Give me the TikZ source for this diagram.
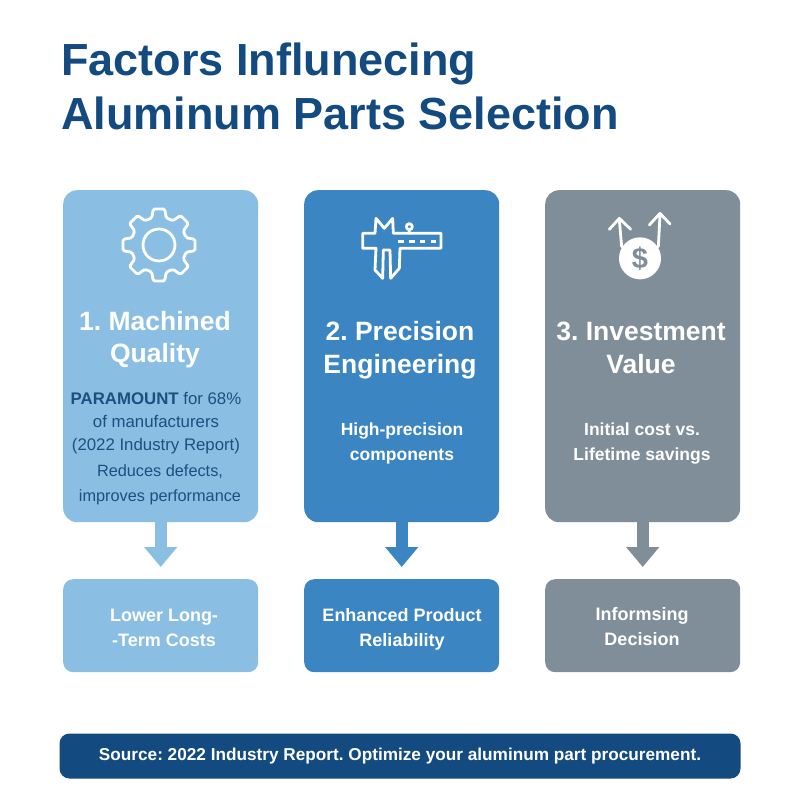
\documentclass[tikz,border=0pt]{standalone}
\usepackage{fontspec}
\setmainfont{Liberation Sans}
\usetikzlibrary{arrows.meta}
\definecolor{navy}{HTML}{134A80}
\definecolor{bodyblue}{HTML}{1F4F80}
\definecolor{lightb}{HTML}{8BBEE3}
\definecolor{midb}{HTML}{3B85C3}
\definecolor{slate}{HTML}{808E9A}
\tikzset{
 tallcard/.style={rounded corners=14pt,inner sep=0pt,minimum width=195pt,minimum height=332pt,anchor=north west},
 lowcard/.style={rounded corners=10pt,inner sep=0pt,minimum width=195pt,minimum height=93pt,anchor=north west},
 heading/.style={text=white,align=center,font=\fontsize{26.5}{32.5}\selectfont\bfseries},
 bodytext/.style={text=white,align=center,font=\fontsize{17.5}{25}\selectfont\bfseries},
 darktext/.style={text=bodyblue,align=center,font=\fontsize{16.8}{23}\selectfont},
 lowtext/.style={text=white,align=center,font=\fontsize{18}{25}\selectfont\bfseries},
 downarrow/.style={draw=#1,line width=12pt,shorten >=12pt,-{Triangle[width=32pt,length=20pt]}},
 icon/.style={draw=white,line width=2.8pt,line join=round,line cap=round},
}
\begin{document}
\frenchspacing
\begin{tikzpicture}[x=1pt,y=-1pt]
\useasboundingbox (0,0) rectangle (800,800);
\fill[white] (0,0) rectangle (800,800);
% title
\node[anchor=west,text=navy,inner sep=0pt,font=\fontsize{45}{54}\selectfont\bfseries,align=left] (title) at (61,86) {Factors Influnecing\\Aluminum Parts Selection};
% cards
\node[tallcard,fill=lightb] (c1) at (63,190) {};
\node[tallcard,fill=midb] (c2) at (304,190) {};
\node[tallcard,fill=slate] (c3) at (545,190) {};
\node[lowcard,fill=lightb] (b1) at (63,579) {};
\node[lowcard,fill=midb] (b2) at (304,579) {};
\node[lowcard,fill=slate] (b3) at (545,579) {};
% arrows
\draw[downarrow=lightb] (c1.south) -- (b1.north);
\draw[downarrow=midb] (c2.south) -- (b2.north);
\draw[downarrow=slate] (c3.south) -- (b3.north);
% headings
\node[heading] (h1) at (155,339.5) {1. Machined\\Quality};
\node[heading] (h2) at (400,350) {2. Precision\\Engineering};
\node[heading] (h3) at (641,348) {3. Investment\\Value};
% body
\node[darktext] (t1) at (156,423) {\textbf{PARAMOUNT} for 68\%\\of manufacturers\\(2022 Industry Report)};
\node[darktext,font=\fontsize{16.3}{25}\selectfont] (t1b) at (160,484.5) {Reduces defects,\\improves performance};
\node[bodytext] (t2) at (402,443.5) {High-precision\\components};
\node[bodytext] (t3) at (642,443.5) {Initial cost vs.\\Lifetime savings};
% lower
\node[lowtext] (l1) at (164,628) {Lower Long-\\-Term Costs};
\node[lowtext] (l2) at (402,629) {Enhanced Product\\Reliability};
\node[lowtext] (l3) at (642,627) {Informsing\\Decision};
% banner
\node[fill=navy,rounded corners=10pt,minimum width=681pt,minimum height=45pt,inner sep=0pt,text=white,font=\fontsize{17.2}{20}\selectfont\bfseries] (src) at (400,756) {Source: 2022 Industry Report. Optimize your aluminum part procurement.};
% gear
\begin{scope}[shift={(159,245)}]
\draw[icon,rounded corners=1.5pt] (-15:28)
  \foreach \a in {0,45,...,315}{
    -- ({\a-15}:28) -- ({\a-9}:36.5) -- ({\a+9}:36.5) -- ({\a+15}:28)
  } -- cycle;
\draw[icon] (0,0) circle (16);
\end{scope}
% caliper
\begin{scope}[shift={(340,200)},x=0.3333pt,y=-0.3333pt]
\draw[icon] (105,100) -- (68,100) -- (68,145) -- (108,145) -- (105,210) -- (128,235) -- (130,150) -- (150,150) -- (152,235) -- (178,205) -- (180,145) -- (303,145) -- (303,100) -- (160,100) -- (158,55) -- (133,85) -- (108,55) -- cycle;
\draw[icon,line cap=butt,dash pattern=on 5.5pt off 5.3pt] (175,125) -- (290,125);
\draw[icon] (208,80) circle (9) (208,89) -- (208,100);
\end{scope}
% money
\begin{scope}[shift={(590,200)},x=0.3333pt,y=-0.3333pt]
\fill[white] (150,175) circle (63);
\draw[icon] (95,140) -- (88,60) (58,88) -- (88,55) -- (122,88);
\draw[icon] (205,140) -- (210,45) (178,75) -- (210,40) -- (240,72);
\node[text=slate,font=\fontsize{29}{29}\selectfont\bfseries,inner sep=0pt] (dollar) at (150,177) {\$};
\end{scope}
\end{tikzpicture}
\end{document}
